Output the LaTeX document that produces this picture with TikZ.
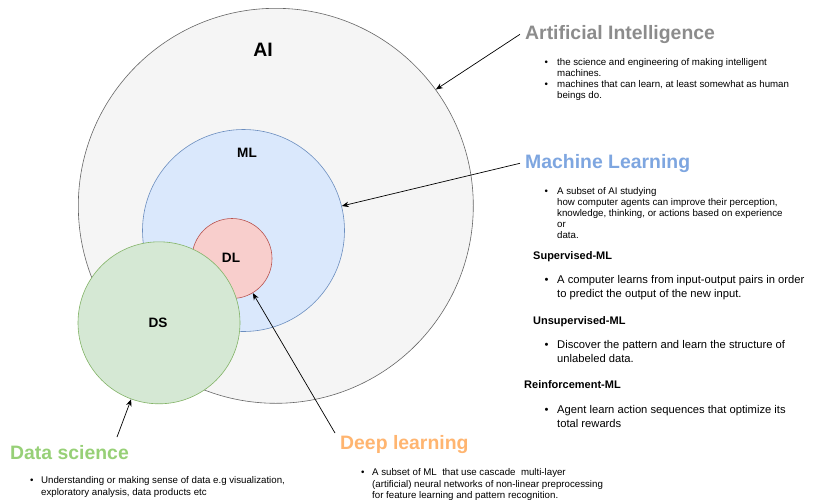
\documentclass[tikz,border=0pt]{standalone}
\usepackage{fontspec}
\setmainfont{Liberation Sans}
\usetikzlibrary{arrows.meta}
\definecolor{aifill}{HTML}{F5F5F5}
\definecolor{aidraw}{HTML}{666666}
\definecolor{mlfill}{HTML}{DAE8FC}
\definecolor{mldraw}{HTML}{6C8EBF}
\definecolor{dlfill}{HTML}{F8CECC}
\definecolor{dldraw}{HTML}{B85450}
\definecolor{dsfill}{HTML}{D5E8D4}
\definecolor{dsdraw}{HTML}{82B366}
\definecolor{aititlec}{HTML}{8C8C8C}
\definecolor{mltitlec}{HTML}{7EA6E0}
\definecolor{dltitlec}{HTML}{FFB570}
\definecolor{dstitlec}{HTML}{97D077}
\begin{document}
\begin{tikzpicture}[x=1pt,y=-1pt,
  txt/.style={anchor=north west, inner sep=0pt, align=left, font=\fontsize{9.7}{11}\selectfont},
  txtb/.style={anchor=north west, inner sep=0pt, align=left, font=\fontsize{11.2}{13.7}\selectfont},
  head/.style={anchor=north west, inner sep=0pt, font=\bfseries\fontsize{11}{13}\selectfont},
  dot/.style={anchor=north west, inner sep=0pt, text height=7.1pt, font=\fontsize{9.7}{11}\selectfont},
  dotb/.style={anchor=north west, inner sep=0pt, text height=8.1pt, font=\fontsize{11.2}{13}\selectfont},
  bigtitle/.style={anchor=north west, inner xsep=5pt, inner ysep=2pt, font=\bfseries\fontsize{19.4}{23}\selectfont},
  circ/.style={circle, inner sep=0pt, line width=0.6pt},
  clabel/.style={font=\bfseries\fontsize{13.6}{16}\selectfont, inner sep=0pt},
  arr/.style={-{Stealth[length=7pt,width=5.5pt]}, line width=0.7pt, black}]

\useasboundingbox (0,0) rectangle (817,499);
\fill[white] (0,0) rectangle (817,499);

% circles
\node[circ, draw=aidraw, fill=aifill, minimum size=395pt] (ai) at (275.8,205.8) {};
\node[circ, draw=mldraw, fill=mlfill, minimum size=202pt] (ml) at (243.5,230.5) {};
\node[circ, draw=dldraw, fill=dlfill, minimum size=80pt] (dl) at (232,258.5) {};
\node[circ, draw=dsdraw, fill=dsfill, minimum size=162pt] (ds) at (159,322.8) {};

% circle labels
\node[font=\bfseries\fontsize{19.4}{22}\selectfont, inner sep=0pt] (ailab) at (263,50) {AI};
\node[clabel] (mllab) at (247,153) {ML};
\node[clabel] (dllab) at (231,258) {DL};
\node[clabel] (dslab) at (158,323) {DS};

% titles
\node[bigtitle, text=aititlec] (aititle) at (520,23) {Artificial Intelligence};
\node[bigtitle, text=mltitlec] (mltitle) at (520,152) {Machine Learning};
\node[bigtitle, text=dltitlec] (dltitle) at (335,433) {Deep learning};
\node[bigtitle, text=dstitlec] (dstitle) at (5,443) {Data science};

% AI bullets
\node[dot] (aid1) at (544.5,58.4) {•};
\node[txt] (aib1) at (557,58.4) {the science and engineering of making intelligent\\machines.};
\node[dot] (aid2) at (544.5,80.4) {•};
\node[txt] (aib2) at (557,80.4) {machines that can learn, at least somewhat as human\\beings do.};

% ML bullets
\node[dot] (mld1) at (544.5,187) {•};
\node[txt] (mlb1) at (557,187) {A subset of AI studying\\how computer agents can improve their perception,\\knowledge, thinking, or actions based on experience\\or\\data.};

% Supervised
\node[head] (suph) at (533,251.5) {Supervised-ML};
\node[dotb] (supd) at (544.5,275.5) {•};
\node[txtb] (supb) at (557,275.5) {A computer learns from input-output pairs in order\\to predict the output of the new input.};

% Unsupervised
\node[head] (unsh) at (533,316.5) {Unsupervised-ML};
\node[dotb] (unsd) at (544.5,340) {•};
\node[txtb] (unsb) at (557,340) {Discover the pattern and learn the structure of\\unlabeled data.};

% Reinforcement
\node[head] (reih) at (524,380.5) {Reinforcement-ML};
\node[dotb] (reid) at (544.5,405) {•};
\node[txtb] (reib) at (557,405) {Agent learn action sequences that optimize its\\total rewards};

% DL bullets
\node[dot] (dld1) at (361,468.4) {•};
\node[txt, font=\fontsize{9.7}{11.5}\selectfont] (dlb1) at (372,468.4) {A subset of ML~ that use cascade~ multi-layer\\(artificial) neural networks of non-linear preprocessing\\for feature learning and pattern recognition.};

% DS bullets
\node[dot] (dsd1) at (30,476.4) {•};
\node[txt, font=\fontsize{9.7}{12}\selectfont] (dsb1) at (41,476.4) {Understanding or making sense of data e.g visualization,\\exploratory analysis, data products etc};

% arrows
\coordinate (dsstart) at (117,437);
\draw[arr] (aititle.west) -- (ai.36);
\draw[arr] (mltitle.west) -- (ml.14);
\draw[arr] (dltitle.north west) -- (dl.-59.4);
\draw[arr] (dsstart) -- (ds.-110.2);
\end{tikzpicture}
\end{document}
